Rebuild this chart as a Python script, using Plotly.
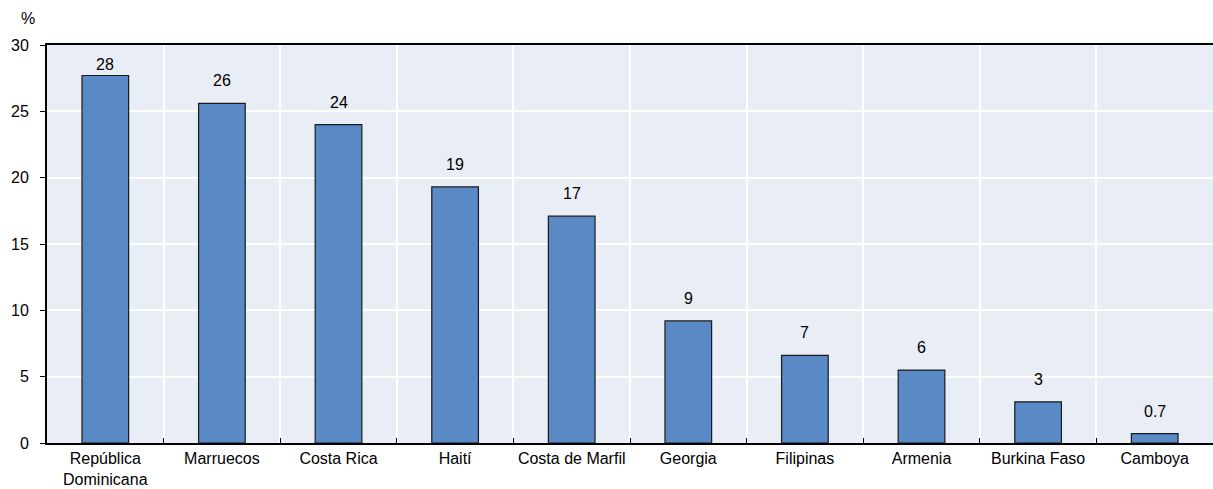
import plotly.graph_objects as go

countries = ["República<br>Dominicana", "Marruecos", "Costa Rica", "Haití", "Costa de Marfil",
             "Georgia", "Filipinas", "Armenia", "Burkina Faso", "Camboya"]
shares = [27.7, 25.6, 24.0, 19.3, 17.1, 9.2, 6.6, 5.5, 3.1, 0.7]
y_ticks = [0, 5, 10, 15, 20, 25, 30]

Y_MAX = 30
PLOT_H = 489 - 45 - 46
PX_PER_UNIT = PLOT_H / Y_MAX


def fmt(v):
    return f"{v:.1f}" if v < 1 else f"{v:.0f}"


def label_shift(v):
    # lift labels above the bar, but keep them inside the top frame
    room = (Y_MAX - v) * PX_PER_UNIT
    return max(0, min(12, room - 30))


FONT = "Liberation Sans, Arial, sans-serif"
FS = 16

fig = go.Figure(
    go.Bar(
        x=countries,
        y=shares,
        marker=dict(color="#5A8AC6", line=dict(color="#1A1A1A", width=1.2)),
        width=0.4,
    )
)

annotations = [
    dict(x=c, y=v, text=fmt(v), xref="x", yref="y", showarrow=False,
         xanchor="center", yanchor="bottom", yshift=label_shift(v),
         font=dict(size=FS, family=FONT, color="#000000"))
    for c, v in zip(countries, shares)
]
annotations.append(
    dict(text="%", xref="paper", yref="paper", x=-0.0165, y=1.04,
         xanchor="center", yanchor="bottom", showarrow=False,
         font=dict(size=FS, family=FONT, color="#000000"))
)

fig.update_layout(
    width=1213,
    height=489,
    margin=dict(l=47, r=0, t=45, b=46),
    paper_bgcolor="white",
    plot_bgcolor="#E9EDF6",
    font=dict(family=FONT, size=FS, color="#000000"),
    showlegend=False,
    annotations=annotations,
)

fig.update_xaxes(
    type="category",
    tickson="boundaries",
    ticks="inside",
    ticklen=5,
    tickcolor="#000000",
    showgrid=True,
    gridcolor="white",
    gridwidth=1.5,
    showline=True,
    linecolor="#000000",
    linewidth=2,
    mirror=True,
    tickfont=dict(size=FS),
)

fig.update_yaxes(
    range=[0, Y_MAX],
    tickvals=y_ticks,
    ticks="outside",
    ticklen=5,
    tickcolor="#000000",
    ticklabelstandoff=8,
    showgrid=True,
    gridcolor="white",
    gridwidth=1.5,
    showline=True,
    linecolor="#000000",
    linewidth=2,
    zeroline=False,
    tickfont=dict(size=FS),
)

fig.write_html("out.html")
